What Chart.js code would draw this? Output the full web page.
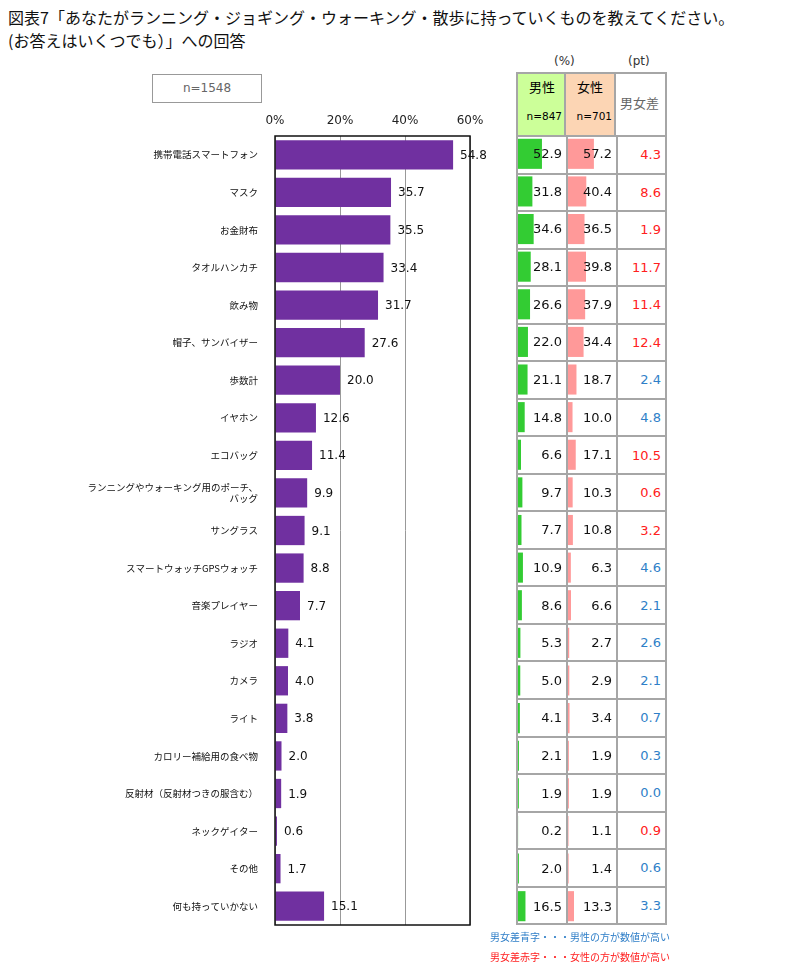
<!DOCTYPE html>
<html>
<head>
<meta charset="utf-8">
<script src="https://cdn.jsdelivr.net/npm/chart.js@4.4.1/dist/chart.umd.min.js"></script>
<style>
  body { margin: 0; background: #fff; font-family: "Noto Sans CJK JP", sans-serif; }
  #wrap { position: relative; width: 810px; height: 978px; }
  .abs { position: absolute; }
  .title { left: 8px; font-size: 16px; color: #111; white-space: nowrap; }
  #nbox { left: 152px; top: 74px; width: 108px; height: 27px; border: 1px solid #999;
          font: 12px "DejaVu Sans", sans-serif; color: #666; text-align: center; line-height: 27px; }
  .unit { font: 12px "DejaVu Sans", sans-serif; color: #333; top: 54px; }
  #hdr { left: 516px; top: 72px; width: 151px; height: 63px; display: flex;
         border: 2px solid #a6a6a6; box-sizing: border-box; border-bottom: none; }
  #hdr div { position: relative; box-sizing: border-box; }
  #body { left: 516px; top: 135px; width: 151px; height: 790px; border: 2px solid #a6a6a6;
          box-sizing: border-box; display: flex; flex-direction: column; }
  .row { flex: 1; display: flex; border-top: 2px solid #a6a6a6; box-sizing: border-box; }
  .row div { box-sizing: border-box; }
  .c1, .c2 { width: 50px; border-right: 2px solid #a6a6a6; }
  .c3 { flex: 1; text-align: right; padding-right: 4px; font: 13px "DejaVu Sans", sans-serif;
        display: flex; align-items: center; justify-content: flex-end; }
  canvas { position: absolute; }
  .note { left: 490px; font-size: 10px; white-space: nowrap; }
</style>
</head>
<body>
<div id="wrap">
  <div class="abs title" style="top:5px">図表7「あなたがランニング・ジョギング・ウォーキング・散歩に持っていくものを教えてください。</div>
  <div class="abs title" style="top:28px">(お答えはいくつでも）」への回答</div>
  <div class="abs" id="nbox">n=1548</div>
  <div class="abs unit" style="left:554px">(%)</div>
  <div class="abs unit" style="left:628px">(pt)</div>
  <div class="abs" id="hdr">
    <div style="width:48px;background:#ccff99;border-right:2px solid #a6a6a6">
      <span class="abs" style="left:11px;top:3px;font-size:13px">男性</span>
      <span class="abs" style="right:2px;top:36px;font:10.5px 'DejaVu Sans'">n=847</span>
    </div>
    <div style="width:50px;background:#fcd5b4;border-right:2px solid #a6a6a6">
      <span class="abs" style="left:11px;top:3px;font-size:13px">女性</span>
      <span class="abs" style="right:2px;top:36px;font:10.5px 'DejaVu Sans'">n=701</span>
    </div>
    <div style="flex:1">
      <span class="abs" style="left:4px;top:19px;font-size:13px;color:#666">男女差</span>
    </div>
  </div>
  <div class="abs" id="body"></div>
  <canvas id="main" width="500" height="840" style="left:0;top:100px"></canvas>
  <canvas id="male" width="48" height="790" style="left:518px;top:135px"></canvas>
  <canvas id="female" width="48" height="790" style="left:568px;top:135px"></canvas>
  <div class="abs note" style="top:929px;color:#2f7fc8">男女差青字・・・男性の方が数値が高い</div>
  <div class="abs note" style="top:949px;color:#ff2020">男女差赤字・・・女性の方が数値が高い</div>
</div>
<script>
var categories = [
  "携帯電話スマートフォン", "マスク", "お金財布", "タオルハンカチ", "飲み物",
  "帽子、サンバイザー", "歩数計", "イヤホン", "エコバッグ",
  ["ランニングやウォーキング用のポーチ、", "バッグ"], "サングラス",
  "スマートウォッチGPSウォッチ", "音楽プレイヤー", "ラジオ", "カメラ", "ライト",
  "カロリー補給用の食べ物", "反射材（反射材つきの服含む）", "ネックゲイター",
  "その他", "何も持っていかない"
];
var total = [54.8, 35.7, 35.5, 33.4, 31.7, 27.6, 20.0, 12.6, 11.4, 9.9, 9.1, 8.8, 7.7, 4.1, 4.0, 3.8, 2.0, 1.9, 0.6, 1.7, 15.1];
var male = [52.9, 31.8, 34.6, 28.1, 26.6, 22.0, 21.1, 14.8, 6.6, 9.7, 7.7, 10.9, 8.6, 5.3, 5.0, 4.1, 2.1, 1.9, 0.2, 2.0, 16.5];
var female = [57.2, 40.4, 36.5, 39.8, 37.9, 34.4, 18.7, 10.0, 17.1, 10.3, 10.8, 6.3, 6.6, 2.7, 2.9, 3.4, 1.9, 1.9, 1.1, 1.4, 13.3];
var diff = [4.3, 8.6, 1.9, 11.7, 11.4, 12.4, 2.4, 4.8, 10.5, 0.6, 3.2, 4.6, 2.1, 2.6, 2.1, 0.7, 0.3, 0.0, 0.9, 0.6, 3.3];
var xTicks = [0, 20, 40, 60];

// table rows (grid + 男女差 column)
var body = document.getElementById("body");
categories.forEach(function(c, i) {
  var row = document.createElement("div");
  row.className = "row";
  if (i === 0) row.style.borderTop = "none";
  var col = female[i] > male[i] ? "#ff2020" : "#2f7fc8";
  row.innerHTML = '<div class="c1"></div><div class="c2"></div><div class="c3" style="color:' + col + '">' + diff[i].toFixed(1) + '</div>';
  body.appendChild(row);
});

var valueLabels = {
  id: "valueLabels",
  afterDatasetsDraw: function(chart, args, opts) {
    var ctx = chart.ctx;
    var meta = chart.getDatasetMeta(0);
    ctx.save();
    ctx.font = opts.font;
    ctx.fillStyle = "#111";
    ctx.textBaseline = "middle";
    meta.data.forEach(function(bar, i) {
      var v = chart.data.datasets[0].data[i].toFixed(1);
      if (opts.align === "right") {
        ctx.textAlign = "right";
        ctx.fillText(v, chart.width - 4, bar.y + 1);
      } else {
        ctx.textAlign = "left";
        ctx.fillText(v, bar.x + 7, bar.y + 1);
      }
    });
    ctx.restore();
  }
};

var frame = {
  id: "frame",
  afterDraw: function(chart) {
    if (!chart.options.plugins.frame) return;
    var a = chart.chartArea, ctx = chart.ctx;
    ctx.save();
    ctx.strokeStyle = "#111";
    ctx.lineWidth = 1.5;
    ctx.strokeRect(a.left, a.top, a.right - a.left, a.bottom - a.top);
    ctx.restore();
  }
};

new Chart(document.getElementById("main"), {
  type: "bar",
  data: {
    labels: categories,
    datasets: [{ data: total, backgroundColor: "#7030a0", barPercentage: 0.78, categoryPercentage: 1 }]
  },
  options: {
    indexAxis: "y",
    responsive: false,
    animation: false,
    layout: { padding: { right: 30, bottom: 15 } },
    plugins: {
      legend: { display: false },
      tooltip: { enabled: false },
      valueLabels: { font: "12px 'DejaVu Sans'" },
      frame: true
    },
    scales: {
      x: {
        position: "top",
        min: 0, max: 60,
        afterBuildTicks: function(s) { s.ticks = xTicks.map(function(v) { return { value: v }; }); },
        afterFit: function(s) { s.height = 36; },
        ticks: { callback: function(v) { return v + "%"; }, padding: 8, color: "#222",
                 font: { family: "DejaVu Sans", size: 12 } },
        grid: { color: "#999", drawTicks: false },
        border: { display: false }
      },
      y: {
        afterFit: function(s) { s.width = 275; },
        ticks: { padding: 9, color: "#111", font: { family: "Noto Sans CJK JP", size: 9.5 } },
        grid: { display: false },
        border: { display: false }
      }
    }
  },
  plugins: [valueLabels, frame]
});

function mini(id, data, color) {
  new Chart(document.getElementById(id), {
    type: "bar",
    data: {
      labels: categories,
      datasets: [{ data: data, backgroundColor: color, barPercentage: 0.8, categoryPercentage: 1 }]
    },
    options: {
      indexAxis: "y",
      responsive: false,
      animation: false,
      layout: { padding: 0 },
      plugins: {
        legend: { display: false },
        tooltip: { enabled: false },
        valueLabels: { font: "13px 'DejaVu Sans'", align: "right" }
      },
      scales: {
        x: { display: false, min: 0, max: 106 },
        y: { display: false }
      }
    },
    plugins: [valueLabels]
  });
}
mini("male", male, "#33cc33");
mini("female", female, "#ff9999");
</script>
</body>
</html>
